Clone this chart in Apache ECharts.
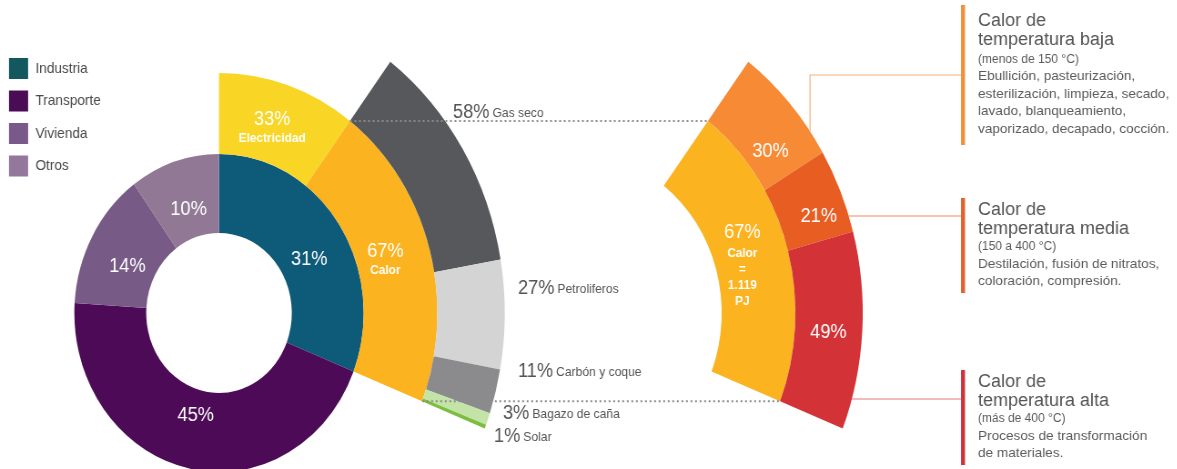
<!DOCTYPE html>
<html>
<head>
<meta charset="utf-8">
<script src="https://cdn.jsdelivr.net/npm/echarts@6/dist/echarts.min.js"></script>
<style>
  html, body { margin: 0; padding: 0; background: #fff; width: 1177px; height: 469px; overflow: hidden; }
  #wrap { position: relative; width: 1177px; height: 469px; overflow: hidden; }
  #chart { position: absolute; left: 0; top: 0; height: 469px; transform-origin: 0 0; }
</style>
</head>
<body>
<div id="wrap"><div id="chart"></div></div>
<script>
// Consumo final de energía por sector, uso de la energía en la industria,
// fuentes del calor industrial y niveles de temperatura del calor.
const sectorNames = ['Industria', 'Transporte', 'Vivienda', 'Otros'];
const sectorValues = [31, 45, 14, 10];

const industryUseNames = ['Electricidad', 'Calor'];
const industryUseValues = [33, 67];

const fuelNames = ['Gas seco', 'Petroliferos', 'Carbón y coque', 'Bagazo de caña', 'Solar'];
const fuelValues = [58, 27, 11, 3, 1];

const heatLevelNames = ['Calor de temperatura baja', 'Calor de temperatura media', 'Calor de temperatura alta'];
const heatLevelValues = [30, 21, 49];
const heatTotalText = ['Calor', '=', '1.119', 'PJ'];

const heatLevelTitles = [
  ['Calor de', 'temperatura baja'],
  ['Calor de', 'temperatura media'],
  ['Calor de', 'temperatura alta']
];
const heatLevelRanges = ['(menos de 150 °C)', '(150 a 400 °C)', '(más de 400 °C)'];
const heatLevelUses = [
  ['Ebullición, pasteurización,', 'esterilización, limpieza, secado,', 'lavado, blanqueamiento,', 'vaporizado, decapado, cocción.'],
  ['Destilación, fusión de nitratos,', 'coloración, compresión.'],
  ['Procesos de transformación', 'de materiales.']
];

// ---- styling ----
const FONT = '"Liberation Sans", Arial, Helvetica, sans-serif';
const sectorColors = ['#0d5a79', '#4d0b57', '#785a86', '#917995'];
const legendColors = ['#12585e', '#4a0c55', '#79598a', '#94789c'];
const industryUseColors = ['#f9d626', '#fbb31f'];
const fuelColors = ['#57585c', '#d4d4d4', '#8b8b8e', '#c4e3a6', '#7abd3f'];
const heatLevelColors = ['#f68a35', '#e85d22', '#d33336'];
const heatBarColors = ['#f38f3c', '#e2612d', '#cf333a'];
const heatLinkColors = ['#f4b07c', '#ea8a64', '#e07a7e'];

// The drawing is laid out on a wider canvas and narrowed horizontally.
const SX = 0.91;
const W = Math.round(1177 / SX);
const X = v => v / SX;

const CY = 313;
const LEFT_C = [X(219), CY];
const RIGHT_C = [X(577), CY];
const R_HOLE = 80, R1 = 159, R2 = 240, R3 = 314;

const sum = a => a.reduce((s, v) => s + v, 0);
const indSpan = 360 * sectorValues[0] / sum(sectorValues);
const ringStart = 90;
const ringEnd = 90 - indSpan;
const calorStart = 90 - indSpan * industryUseValues[0] / sum(industryUseValues);

const pt = (c, r, deg) => [c[0] + r * Math.cos(deg * Math.PI / 180), c[1] - r * Math.sin(deg * Math.PI / 180)];

// label nudges (page px) for the labels drawn inside the rings
const sectorLabelShift = [[-2, 15], [1, -17], [6, 12], [4, 13]];
const industryLabelShift = [[-5, 7], [-11, 2]];
const calorLabelShift = [[-12, 7]];
const heatLabelShift = [[4, 26], [7, 12], [-3, 3]];
const shiftLayout = shifts => p => ({ dx: shifts[p.dataIndex][0] / SX, dy: shifts[p.dataIndex][1] });

// label placement for the fuel ring (page px)
const fuelLabelX = [453, 518, 518, 503, 494];
const fuelLabelY = [112, 288, 371, 413, 436];

// annotation blocks (page px)
const barX = 961, barW = 4;
const barSpans = [[5, 145], [198, 293], [370, 465]];
const linkY = [75, 216, 399];
const textX = 978;
const titleTop = [11, 200, 372];
const bodyTop = [50.5, 238, 410];

const dom = document.getElementById('chart');
dom.style.width = W + 'px';
dom.style.transform = 'scaleX(' + SX + ')';
const chart = echarts.init(dom, null, { renderer: 'canvas', width: W, height: 469 });

const pctLabel = { show: true, position: 'inside', color: '#fff', fontFamily: FONT, fontSize: 20, formatter: '{c}%' };
const boldSmall = { color: '#fff', fontSize: 13, fontWeight: 'bold', fontFamily: FONT };

const series = [
  {
    type: 'pie', name: 'Sectores', center: LEFT_C, radius: [R_HOLE, R1],
    startAngle: ringStart, clockwise: true, silent: true, animation: false,
    label: pctLabel,
    labelLine: { show: false },
    labelLayout: shiftLayout(sectorLabelShift),
    data: sectorNames.map((n, i) => ({ name: n, value: sectorValues[i], itemStyle: { color: sectorColors[i] } }))
  },
  {
    type: 'pie', name: 'Industria', center: LEFT_C, radius: [R1, R2],
    startAngle: ringStart, endAngle: ringEnd, clockwise: true, silent: true, animation: false,
    label: {
      show: true, position: 'inside', fontFamily: FONT,
      formatter: p => '{p|' + p.value + '%}\n{n|' + p.name + '}',
      rich: {
        p: { color: '#fff', fontSize: 20, lineHeight: 22, fontFamily: FONT },
        n: Object.assign({ lineHeight: 16 }, boldSmall)
      }
    },
    labelLine: { show: false },
    labelLayout: shiftLayout(industryLabelShift),
    data: industryUseNames.map((n, i) => ({ name: n, value: industryUseValues[i], itemStyle: { color: industryUseColors[i] } }))
  },
  {
    type: 'pie', name: 'Fuentes', center: LEFT_C, radius: [R2, R3],
    startAngle: calorStart, endAngle: ringEnd, clockwise: true, silent: true, animation: false,
    avoidLabelOverlap: false,
    label: {
      show: true, position: 'outside', fontFamily: FONT,
      formatter: p => '{p|' + p.value + '%} {n|' + p.name + '}',
      rich: {
        p: { color: '#555', fontSize: 20, fontFamily: FONT, verticalAlign: 'bottom' },
        n: { color: '#555', fontSize: 13.3, fontFamily: FONT, verticalAlign: 'bottom', padding: [0, 0, 2, 0] }
      }
    },
    labelLine: { show: false },
    labelLayout: p => ({ x: X(fuelLabelX[p.dataIndex]), y: fuelLabelY[p.dataIndex], align: 'left', verticalAlign: 'middle' }),
    data: fuelNames.map((n, i) => ({ name: n, value: fuelValues[i], itemStyle: { color: fuelColors[i] } }))
  },
  {
    type: 'pie', name: 'Calor', center: RIGHT_C, radius: [R1, R2],
    startAngle: calorStart, endAngle: ringEnd, clockwise: true, silent: true, animation: false,
    label: {
      show: true, position: 'inside', fontFamily: FONT,
      formatter: p => '{p|' + p.value + '%}\n' + heatTotalText.map(t => '{n|' + t + '}').join('\n'),
      rich: {
        p: { color: '#fff', fontSize: 20, lineHeight: 25, fontFamily: FONT },
        n: Object.assign({ lineHeight: 16 }, boldSmall)
      }
    },
    labelLine: { show: false },
    labelLayout: shiftLayout(calorLabelShift),
    data: [{ name: industryUseNames[1], value: industryUseValues[1], itemStyle: { color: industryUseColors[1] } }]
  },
  {
    type: 'pie', name: 'Temperatura', center: RIGHT_C, radius: [R2, R3],
    startAngle: calorStart, endAngle: ringEnd, clockwise: true, silent: true, animation: false,
    label: pctLabel,
    labelLine: { show: false },
    labelLayout: shiftLayout(heatLabelShift),
    data: heatLevelNames.map((n, i) => ({ name: n, value: heatLevelValues[i], itemStyle: { color: heatLevelColors[i] } }))
  }
];

// graphic overlay: dotted guides, connectors, colored bars and descriptive text
const graphics = [];
[calorStart, ringEnd].forEach(a => {
  const p1 = pt(LEFT_C, R2, a), p2 = pt(RIGHT_C, R2, a);
  graphics.push({
    type: 'line', z: 100, silent: true,
    shape: { x1: p1[0], y1: p1[1], x2: p2[0], y2: p2[1] },
    style: { stroke: '#8c8c8c', lineWidth: 2, lineDash: [2, 3] }
  });
});

const arcXAt = y => RIGHT_C[0] + Math.sqrt(R3 * R3 - (y - RIGHT_C[1]) * (y - RIGHT_C[1]));
const arcYAt = x => RIGHT_C[1] - Math.sqrt(R3 * R3 - (x - RIGHT_C[0]) * (x - RIGHT_C[0]));

heatLevelNames.forEach((n, i) => {
  const bx = X(barX);
  if (i === 0) {
    const vx = X(810);
    graphics.push({
      type: 'polyline', z: 50, silent: true,
      shape: { points: [[vx, arcYAt(vx)], [vx, linkY[0]], [bx, linkY[0]]] },
      style: { stroke: heatLinkColors[0], lineWidth: 1.2, fill: null }
    });
  } else {
    graphics.push({
      type: 'line', z: 50, silent: true,
      shape: { x1: arcXAt(linkY[i]), y1: linkY[i], x2: bx, y2: linkY[i] },
      style: { stroke: heatLinkColors[i], lineWidth: 1.2 }
    });
  }
  graphics.push({
    type: 'rect', z: 60, silent: true,
    shape: { x: bx, y: barSpans[i][0], width: X(barW), height: barSpans[i][1] - barSpans[i][0] },
    style: { fill: heatBarColors[i] }
  });
  // text keeps its natural width on the narrowed canvas
  graphics.push({
    type: 'text', z: 60, silent: true, x: X(textX), y: titleTop[i], scaleX: 1 / SX,
    style: { text: heatLevelTitles[i].join('\n'), fill: '#555', fontSize: 18, fontFamily: FONT, lineHeight: 19.5, verticalAlign: 'top', align: 'left' }
  });
  graphics.push({
    type: 'text', z: 60, silent: true, x: X(textX), y: bodyTop[i], scaleX: 1 / SX,
    style: {
      text: '{r|' + heatLevelRanges[i] + '}\n' + heatLevelUses[i].map(t => '{u|' + t + '}').join('\n'),
      verticalAlign: 'top', align: 'left',
      rich: {
        r: { fill: '#5a5a5a', fontSize: 12, fontFamily: FONT, lineHeight: 17.4 },
        u: { fill: '#5a5a5a', fontSize: 13.6, fontFamily: FONT, lineHeight: 17.4 }
      }
    }
  });
});

chart.setOption({
  backgroundColor: '#fff',
  animation: false,
  legend: {
    orient: 'vertical', left: X(9), top: 58, padding: 0,
    itemWidth: 21, itemHeight: 21, itemGap: 11.5, icon: 'rect',
    selectedMode: false,
    textStyle: { fontSize: 15, color: '#4a4a4a', fontFamily: FONT, padding: [0, 0, 0, 3] },
    data: sectorNames.map((n, i) => ({ name: n, itemStyle: { color: legendColors[i] } }))
  },
  series: series,
  graphic: { elements: graphics }
});
</script>
</body>
</html>
